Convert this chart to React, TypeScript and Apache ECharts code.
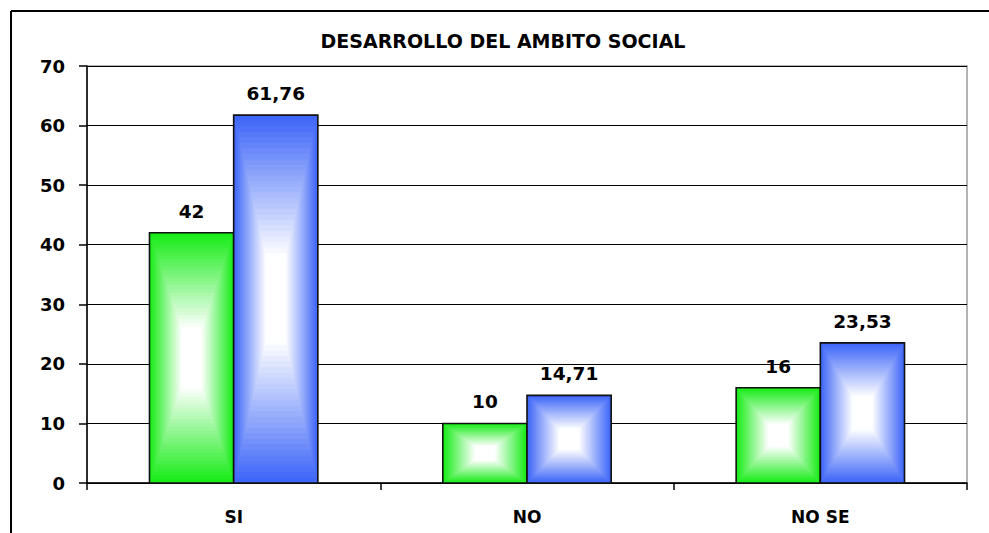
import React, { useEffect, useRef } from "react";
import * as echarts from "echarts";

const TITLE = "DESARROLLO DEL AMBITO SOCIAL";
const categories = ["SI", "NO", "NO SE"];
const seriesGreen = [42, 10, 16];
const seriesBlue = [61.76, 14.71, 23.53];
const yTicks = { min: 0, max: 70, interval: 10 };

const GREEN: [number, number, number] = [24, 236, 24];
const BLUE: [number, number, number] = [62, 102, 248];
const FONT = "DejaVu Sans";

function mix(c: [number, number, number], t: number) {
  const r = Math.round(c[0] + (255 - c[0]) * t);
  const g = Math.round(c[1] + (255 - c[1]) * t);
  const b = Math.round(c[2] + (255 - c[2]) * t);
  return `rgb(${r},${g},${b})`;
}

const fmt = (v: number) => String(v).replace(".", ",");

function makeRender(base: [number, number, number], side: number) {
  return (params: any, api: any) => {
    const idx = api.value(0);
    const val = api.value(1);
    const top = api.coord([idx, val]);
    const bottom = api.coord([idx, 0]);
    const band = api.size([1, 0])[0];
    const bw = band * 0.287;
    const x0 = top[0] + (side < 0 ? -bw : 0);
    const y0 = top[1];
    const h = bottom[1] - top[1];
    const N = 30;
    const children: any[] = [];
    for (let k = 0; k < N; k++) {
      const s = (k / N) * 0.9;
      const t = Math.min(1, (k / (N - 1)) * 1.15);
      children.push({
        type: "rect",
        shape: {
          x: x0 + (s * bw) / 2,
          y: y0 + (s * h) / 2,
          width: bw * (1 - s),
          height: h * (1 - s),
        },
        style: { fill: mix(base, t) },
      });
    }
    children.push({
      type: "rect",
      shape: { x: x0, y: y0, width: bw, height: h },
      style: { fill: "none", stroke: "#111", lineWidth: 1.6 },
    });
    children.push({
      type: "text",
      style: {
        text: fmt(val),
        x: x0 + bw / 2,
        y: y0 - 12,
        align: "center",
        verticalAlign: "bottom",
        fontFamily: FONT,
        fontWeight: "bold",
        fontSize: 18.5,
        fill: "#000",
      },
    });
    return { type: "group", children };
  };
}

export default function App() {
  const ref = useRef<HTMLDivElement>(null);
  useEffect(() => {
    if (!ref.current) return;
    const chart = echarts.init(ref.current, null, { renderer: "svg" });
    chart.setOption({
      animation: false,
      backgroundColor: "#fff",
      title: {
        text: TITLE,
        left: 498,
        top: 26,
        textAlign: "center",
        textStyle: { fontFamily: FONT, fontWeight: "bold", fontSize: 19, color: "#000" },
      },
      grid: {
        left: 87,
        right: 22,
        top: 66,
        bottom: 50,
        show: true,
        borderColor: "#9a9a9a",
        borderWidth: 1.5,
        backgroundColor: "transparent",
      },
      xAxis: {
        type: "category",
        data: categories,
        axisLine: { lineStyle: { color: "#000", width: 1.5 } },
        axisTick: { show: true, length: 7, alignWithLabel: false, lineStyle: { color: "#000", width: 1.5 } },
        axisLabel: {
          margin: 25,
          fontFamily: FONT,
          fontWeight: "bold",
          fontSize: 17,
          color: "#000",
        },
      },
      yAxis: {
        type: "value",
        min: yTicks.min,
        max: yTicks.max,
        interval: yTicks.interval,
        axisLine: { show: true, lineStyle: { color: "#000", width: 1.5 } },
        axisTick: { show: true, length: 8, lineStyle: { color: "#000", width: 1.5 } },
        axisLabel: {
          margin: 22,
          fontFamily: FONT,
          fontWeight: "bold",
          fontSize: 18,
          color: "#000",
        },
        splitLine: { show: true, lineStyle: { color: "#000", width: 1.2 } },
      },
      series: [
        {
          type: "custom",
          name: "A",
          data: seriesGreen.map((v, i) => [i, v]),
          encode: { x: 0, y: 1 },
          renderItem: makeRender(GREEN, -1),
          z: 3,
        },
        {
          type: "custom",
          name: "B",
          data: seriesBlue.map((v, i) => [i, v]),
          encode: { x: 0, y: 1 },
          renderItem: makeRender(BLUE, 1),
          z: 3,
        },
      ],
      graphic: [
        { type: "line", shape: { x1: 11, y1: 11, x2: 989, y2: 11 }, style: { stroke: "#000", lineWidth: 2 } },
        { type: "line", shape: { x1: 11, y1: 11, x2: 11, y2: 533 }, style: { stroke: "#000", lineWidth: 2 } },
      ],
    });
    return () => chart.dispose();
  }, []);
  return (
    <div
      ref={ref}
      style={{ position: "fixed", left: 0, top: 0, width: 989, height: 533, background: "#fff" }}
    />
  );
}
